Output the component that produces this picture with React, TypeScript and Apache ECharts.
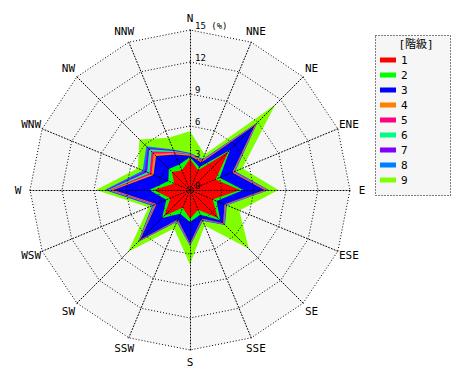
import React, { useEffect, useRef } from 'react';
import * as echarts from 'echarts';

// Directions, clockwise from north
const directions = ['N', 'NNE', 'NE', 'ENE', 'E', 'ESE', 'SE', 'SSE', 'S', 'SSW', 'SW', 'WSW', 'W', 'WNW', 'NW', 'NNW'];
const classNames = ['1', '2', '3', '4', '5', '6', '7', '8', '9'];
const classColors = ['#ff0000', '#00ff00', '#0000ff', '#ff8000', '#ff0080', '#00ff80', '#8000ff', '#0080ff', '#80ff00'];
const radialTicks = [0, 3, 6, 9, 12, 15];

// Frequency (%) of each class per direction (clockwise from N)
const class1 = [2.9, 2.0, 5.1, 2.6, 4.7, 2.3, 3.7, 2.0, 2.7, 1.8, 3.4, 2.0, 3.4, 1.6, 2.4, 2.0];
const class2 = [0.2, 0.3, 0.2, 0.4, 0.3, 0.4, 0.3, 0.5, 0.3, 0.6, 0.3, 0.4, 0.4, 0.6, 0.4, 0.6];
const class3 = [0.1, 0.5, 3.3, 1.3, 2.0, 0.8, 0.4, 0.4, 2.0, 0.6, 2.9, 1.0, 3.4, 1.5, 1.7, 1.0];
const class4 = [0.1, 0.15, 0.15, 0.1, 0.15, 0.05, 0.05, 0.05, 0.05, 0.05, 0.1, 0.1, 0.2, 0.2, 0.3, 0.15];
const class5 = [0.05, 0.05, 0.05, 0.05, 0.1, 0.05, 0.05, 0.05, 0.05, 0.05, 0.05, 0.1, 0.15, 0.2, 0.3, 0.1];
const class6 = [0.05, 0.05, 0.05, 0.05, 0.05, 0.05, 0.05, 0.05, 0.05, 0.05, 0.05, 0.1, 0.15, 0.25, 0.3, 0.1];
const class7 = [0.05, 0.05, 0.05, 0.05, 0.05, 0.05, 0.05, 0.05, 0.05, 0.05, 0.05, 0.1, 0.2, 0.25, 0.2, 0.1];
const class8 = [0.05, 0.05, 0.05, 0.05, 0.05, 0.05, 0.05, 0.05, 0.05, 0.05, 0.05, 0.05, 0.1, 0.2, 0.2, 0.05];
const class9 = [2.0, 0.45, 2.35, 0.7, 0.9, 1.25, 3.15, 0.45, 1.75, 0.65, 1.3, 0.35, 0.8, 0.5, 0.9, 1.2];

const classValues = [class1, class2, class3, class4, class5, class6, class7, class8, class9];

const FONT = "'DejaVu Sans Mono', 'Noto Sans CJK JP', monospace";

// ECharts radar lays indicators out counter-clockwise; reorder to clockwise
const toCcw = <T,>(arr: T[]): T[] => [arr[0], ...arr.slice(1).reverse()];

export default function App() {
  const ref = useRef<HTMLDivElement>(null);
  useEffect(() => {
    document.body.style.margin = '0';
    if (!ref.current) return;
    const chart = echarts.init(ref.current, undefined, { renderer: 'svg' });

    // cumulative stacks
    const cum: number[][] = [];
    classValues.forEach((vals, k) => {
      cum.push(vals.map((v, i) => +(v + (k > 0 ? cum[k - 1][i] : 0)).toFixed(3)));
    });

    const maxV = radialTicks[radialTicks.length - 1];
    const indicatorsBase = toCcw(directions).map((d) => ({ name: d, min: 0, max: maxV }));
    const indicatorsOverlay = toCcw(directions).map((d, i) =>
      i === 0 ? { name: d, min: 0, max: maxV, axisLabel: { show: true } } : { name: d, min: 0, max: maxV }
    );
    const dotted = { color: '#000', width: 1, type: [1, 2] as any };

    const series: any[] = [];
    for (let k = classNames.length - 1; k >= 0; k--) {
      series.push({
        type: 'radar',
        name: classNames[k],
        radarIndex: 0,
        z: 2,
        silent: true,
        symbol: 'none',
        lineStyle: { width: 0, opacity: 0 },
        areaStyle: { color: classColors[k], opacity: 1 },
        itemStyle: { color: classColors[k] },
        data: [{ name: classNames[k], value: toCcw(cum[k]), itemStyle: { color: classColors[k] } }],
      });
    }

    chart.setOption({
      animation: false,
      backgroundColor: '#ffffff',
      textStyle: { fontFamily: FONT },
      radar: [
        {
          center: [190, 190],
          radius: 160,
          shape: 'polygon',
          splitNumber: radialTicks.length - 1,
          indicator: indicatorsBase,
          z: 0,
          axisName: { color: '#000', fontFamily: FONT, fontSize: 11, align: 'center', verticalAlign: 'middle' },
          nameGap: 12,
          splitArea: { show: true, areaStyle: { color: ['#f6f6f6'] } },
          splitLine: { show: false },
          axisLine: { show: false },
          axisTick: { show: false },
          axisLabel: { show: false },
        },
        {
          center: [190, 190],
          radius: 160,
          shape: 'polygon',
          splitNumber: radialTicks.length - 1,
          indicator: indicatorsOverlay,
          z: 5,
          axisName: { show: false },
          splitArea: { show: false },
          splitLine: { show: true, lineStyle: dotted },
          axisLine: { show: true, lineStyle: dotted },
          axisTick: { show: false },
          axisLabel: {
            show: false,
            color: '#000',
            fontFamily: FONT,
            fontSize: 9,
            margin: -5,
            align: 'left',
            verticalAlign: 'bottom',
            showMinLabel: true,
            showMaxLabel: true,
            formatter: (v: number) => (v === maxV ? v + ' (%)' : String(v)),
          },
        },
      ],
      legend: {
        orient: 'vertical',
        left: 380,
        top: 54,
        padding: 0,
        itemWidth: 16,
        itemHeight: 5,
        itemGap: 3,
        icon: 'rect',
        data: classNames,
        selectedMode: false,
        textStyle: { color: '#000', fontFamily: FONT, fontSize: 11, lineHeight: 12 },
      },
      graphic: [
        {
          type: 'rect',
          z: 1,
          shape: { x: 375.5, y: 35.5, width: 75, height: 160 },
          style: { fill: '#f6f6f6', stroke: '#000', lineWidth: 1, lineDash: [1, 2] },
          silent: true,
        },
        {
          type: 'text',
          z: 2,
          x: 416,
          y: 44,
          style: {
            text: '[階級]',
            fill: '#000',
            font: `11px ${FONT}`,
            textAlign: 'center',
            textVerticalAlign: 'middle',
          },
          silent: true,
        },
      ],
      series,
    });
    return () => chart.dispose();
  }, []);
  return <div ref={ref} style={{ width: 470, height: 380 }} />;
}
